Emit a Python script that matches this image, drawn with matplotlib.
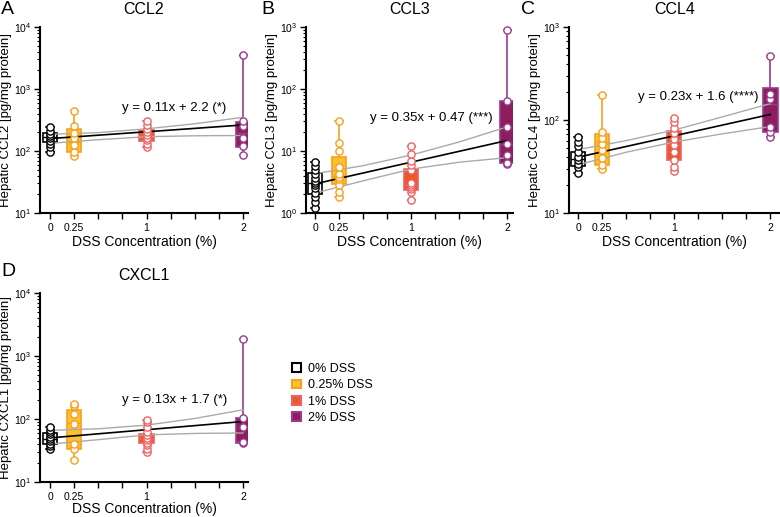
import matplotlib.pyplot as plt
import numpy as np
from matplotlib.patches import Patch

plt.rcParams['font.family'] = ['Liberation Sans', 'DejaVu Sans']

# groups
doses = [0, 0.25, 1, 2]
group_labels = ['0% DSS', '0.25% DSS', '1% DSS', '2% DSS']
fill_colors = ['white', '#FDC12F', '#EA5A28', '#8C1D5E']
edge_colors = ['black', '#F8A01C', '#EC6363', '#9A3B8E']

# x positions where the confidence band was read
ci_x = [0, 0.5, 1, 1.5, 2]

# CCL2
ccl2_points = [[97, 115, 130, 145, 160, 175, 190, 210, 240],
               [82, 96, 123, 160, 195, 250, 440],
               [117, 130, 148, 165, 180, 200, 225, 260, 305],
               [86, 119, 163, 249, 300, 3600]]
ccl2_q1 = [141, 95, 147, 115]
ccl2_med = [166, 140, 177, 195]
ccl2_q3 = [193, 229, 218, 290]
ccl2_fit = (0.11, 2.2)
ccl2_ci_upper = [186, 198, 228, 275, 350]
ccl2_ci_lower = [133, 152, 170, 176, 178]

# CCL3
ccl3_points = [[1.2, 1.5, 1.8, 2.1, 2.5, 2.8, 3.0, 3.3, 3.7, 4.2, 5.0, 5.8, 6.7],
               [1.8, 2.2, 2.8, 3.5, 3.8, 4.2, 5.5, 10, 13.5, 31],
               [1.6, 2.2, 2.4, 2.6, 2.8, 3.0, 5.0, 6.0, 7.0, 9.0, 12],
               [6.1, 6.5, 8.6, 13, 24.5, 64, 890]]
ccl3_q1 = [2.0, 2.9, 2.35, 6.5]
ccl3_med = [3.0, 4.0, 2.8, 13]
ccl3_q3 = [4.4, 8.1, 5.1, 64]
ccl3_fit = (0.35, 0.47)
ccl3_ci_upper = [4.3, 5.8, 8.6, 14, 24.5]
ccl3_ci_lower = [2.1, 3.3, 5.1, 6.6, 7.8]

# CCL4
ccl4_points = [[27, 31, 34, 37, 40, 45, 52, 58, 65],
               [30, 33, 39, 48, 55, 64, 74, 187],
               [28, 31, 37, 45, 54, 62, 72, 83, 95, 106],
               [65, 74, 85, 168, 189, 488]]
ccl4_q1 = [32, 33, 37, 74]
ccl4_med = [38, 58, 54, 150]
ccl4_q3 = [45, 70, 77, 219]
ccl4_fit = (0.23, 1.6)
ccl4_ci_upper = [48, 60, 78, 108, 150]
ccl4_ci_lower = [33, 45, 58, 71, 85]

# CXCL1
cxcl1_points = [[34, 37, 40, 44, 48, 52, 57, 63, 68, 75],
                [22, 33, 40, 84, 119, 160, 175],
                [30, 34, 38, 42, 46, 50, 55, 62, 75, 88, 97],
                [41, 43, 74, 102, 1840]]
cxcl1_q1 = [40, 34, 41, 42]
cxcl1_med = [49, 85, 49, 45]
cxcl1_q3 = [61, 140, 58, 102]
cxcl1_fit = (0.13, 1.7)
cxcl1_ci_upper = [66, 70, 80, 102, 140]
cxcl1_ci_lower = [40, 47, 56, 59, 60]


def draw_panel(ax, name, points, q1, med, q3, fit, ci_upper, ci_lower,
               ylim, eq_text, eq_pos, xlim, width_px, height_px, xlabel_off):
    stats = []
    for pts, a, m, b in zip(points, q1, med, q3):
        stats.append({'whislo': min(pts), 'q1': a, 'med': m, 'q3': b,
                      'whishi': max(pts), 'fliers': []})
    for i, s in enumerate(stats):
        ax.bxp([s], positions=[doses[i]], widths=0.15, patch_artist=True,
               showfliers=False,
               boxprops=dict(facecolor=fill_colors[i], edgecolor=edge_colors[i], linewidth=1.2),
               medianprops=dict(color=edge_colors[i], linewidth=1.0),
               whiskerprops=dict(color=edge_colors[i], linewidth=1.2),
               capprops=dict(color=edge_colors[i], linewidth=1.2),
               zorder=2)

    slope, intercept = fit
    fit_x = np.array([0, 2])
    ax.plot(fit_x, 10 ** (slope * fit_x + intercept), color='black', lw=1.2, zorder=3)
    ax.plot(ci_x, ci_upper, color='#AAAAAA', lw=1.0, zorder=3)
    ax.plot(ci_x, ci_lower, color='#AAAAAA', lw=1.0, zorder=3)

    for i, pts in enumerate(points):
        ax.plot([doses[i]] * len(pts), pts, 'o', ms=5.2, mfc='white',
                mec=edge_colors[i], mew=1.0, zorder=4, clip_on=False)

    ax.set_yscale('log')
    ax.set_ylim(*ylim)
    ax.set_xlim(*xlim)
    ax.set_xticks(np.arange(0, 2.01, 0.25))
    ax.set_xticklabels(['0', '0.25', '', '', '1', '', '', '', '2'])
    ax.tick_params(axis='both', direction='out', length=4, width=1, labelsize=7.5)
    ax.tick_params(axis='y', which='major', pad=2)
    ax.tick_params(axis='y', which='minor', length=2.5, width=0.8)
    ax.spines['top'].set_visible(False)
    ax.spines['right'].set_visible(False)
    ax.spines['left'].set_linewidth(1.5)
    ax.spines['bottom'].set_linewidth(1.5)
    ax.set_title(name, fontsize=11.5, pad=9)
    ax.set_xlabel('DSS Concentration (%)', fontsize=10, va='center')
    ax.xaxis.set_label_coords(0.5, -xlabel_off / height_px)
    ax.set_ylabel('Hepatic ' + name + ' [pg/mg protein]', fontsize=9.5, va='center')
    ax.yaxis.set_label_coords(-34 / width_px, 0.5)
    ax.text(eq_pos[0], eq_pos[1], eq_text, fontsize=9.5, ha='left', va='center', zorder=5)


fig = plt.figure(figsize=(7.8, 5.17), dpi=100)

ax_a = fig.add_axes([40 / 780, 304 / 517, 208 / 780, 186 / 517])
ax_b = fig.add_axes([306 / 780, 304 / 517, 207 / 780, 186 / 517])
ax_c = fig.add_axes([569 / 780, 304 / 517, 211 / 780, 186 / 517])
ax_d = fig.add_axes([40 / 780, 35 / 517, 208 / 780, 189 / 517])

draw_panel(ax_a, 'CCL2', ccl2_points, ccl2_q1, ccl2_med, ccl2_q3, ccl2_fit,
           ccl2_ci_upper, ccl2_ci_lower, (10, 1e4), 'y = 0.11x + 2.2 (*)',
           (0.75, 490), (-0.104, 2.05), 208, 186, 29)
draw_panel(ax_b, 'CCL3', ccl3_points, ccl3_q1, ccl3_med, ccl3_q3, ccl3_fit,
           ccl3_ci_upper, ccl3_ci_lower, (1, 1e3), 'y = 0.35x + 0.47 (***)',
           (0.57, 34), (-0.094, 2.06), 207, 186, 29)
draw_panel(ax_c, 'CCL4', ccl4_points, ccl4_q1, ccl4_med, ccl4_q3, ccl4_fit,
           ccl4_ci_upper, ccl4_ci_lower, (10, 1e3), 'y = 0.23x + 1.6 (****)',
           (0.625, 178), (-0.094, 2.1), 211, 186, 29)
draw_panel(ax_d, 'CXCL1', cxcl1_points, cxcl1_q1, cxcl1_med, cxcl1_q3, cxcl1_fit,
           cxcl1_ci_upper, cxcl1_ci_lower, (10, 1e4), 'y = 0.13x + 1.7 (*)',
           (0.75, 200), (-0.104, 2.05), 208, 189, 27)

for letter, x, y in [('A', 1, 1), ('B', 261, 1), ('C', 521, 1), ('D', 1, 263)]:
    fig.text(x / 780, 1 - y / 517, letter, fontsize=14, ha='left', va='top')

handles = [Patch(facecolor=fill_colors[i], edgecolor=edge_colors[i], linewidth=1.5)
           for i in range(4)]
fig.legend(handles, group_labels, loc='upper left', bbox_to_anchor=(292 / 780, 1 - 363 / 517),
           frameon=False, fontsize=9, handlelength=0.7, handleheight=0.7,
           handletextpad=0.6, labelspacing=0.35, borderpad=0, borderaxespad=0)

fig.savefig('out.png', dpi=100)
